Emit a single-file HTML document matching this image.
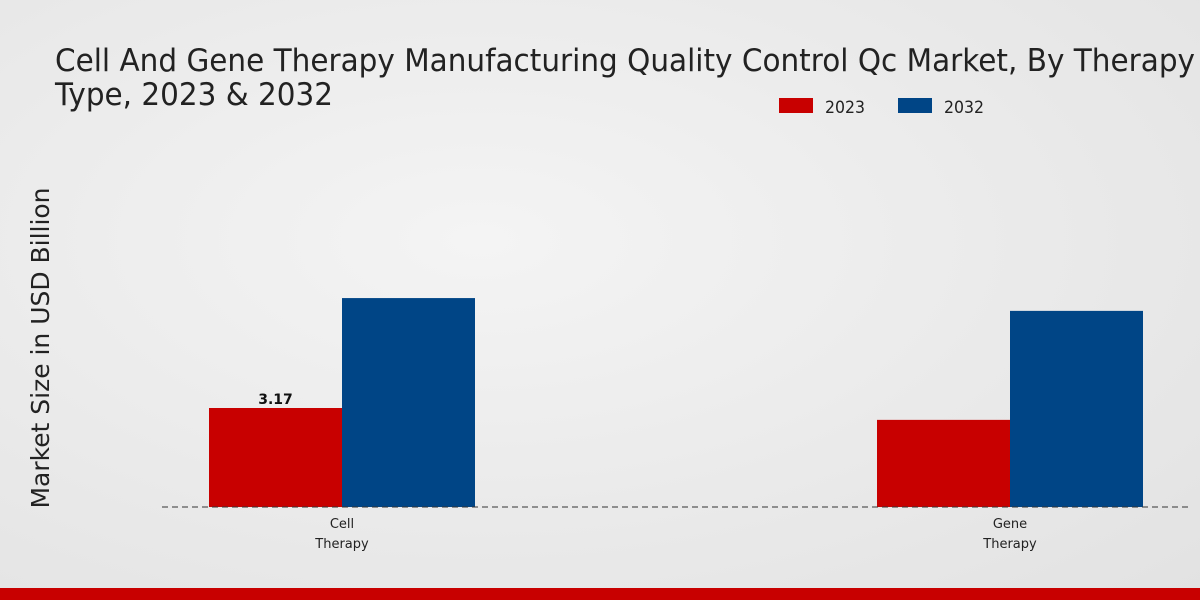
<!DOCTYPE html>
<html><head><meta charset="utf-8">
<style>
html,body{margin:0;padding:0;width:1200px;height:600px;overflow:hidden;}
body{background:radial-gradient(ellipse at 40% 40%,#f4f4f4 0%,#e9e9e9 60%,#e2e2e2 100%);font-family:"DejaVu Sans","Liberation Sans",sans-serif;}
</style></head>
<body>
<svg width="1200" height="600" viewBox="0 0 1200 600">
<text x="55" y="71" font-size="31" fill="#222" textLength="1140" lengthAdjust="spacingAndGlyphs">Cell And Gene Therapy Manufacturing Quality Control Qc Market, By Therapy</text>
<text x="55" y="105" font-size="31" fill="#222" textLength="278" lengthAdjust="spacingAndGlyphs">Type, 2023 &amp; 2032</text>
<g>
<rect x="779" y="98" width="34" height="15" fill="#c80000"/>
<text x="825" y="113" font-size="17" fill="#222" textLength="40" lengthAdjust="spacingAndGlyphs">2023</text>
<rect x="898" y="98" width="34" height="15" fill="#004586"/>
<text x="944" y="113" font-size="17" fill="#222" textLength="40" lengthAdjust="spacingAndGlyphs">2032</text>
</g>
<text transform="translate(49,348) rotate(-90)" text-anchor="middle" font-size="25" fill="#222" textLength="321" lengthAdjust="spacingAndGlyphs">Market Size in USD Billion</text>
<g id="bars"></g>
<line x1="162" y1="507" x2="1190" y2="507" stroke="#333" stroke-width="1" stroke-dasharray="6,4"/>
<g id="xlabels"></g>
<rect x="0" y="588" width="1200" height="12" fill="#c80000"/>
</svg>
<script>
const categories = ["Cell|Therapy", "Gene|Therapy"];
const values2023 = [3.17, 2.79];
const values2032 = [6.69, 6.28];
const printedLabels2023 = ["3.17", ""];
const ns = "http://www.w3.org/2000/svg";
const baseY = 507, pxPerUnit = 31.23, barW = 133;
const centers = [342, 1010];
function yScale(v){return baseY - v*pxPerUnit;}
const g = document.getElementById('bars');
const xl = document.getElementById('xlabels');
categories.forEach((c,i)=>{
  const cx = centers[i];
  [[values2023,"#c80000","2023",-barW],[values2032,"#004586","2032",0]].forEach(([arr,col,yr,off])=>{
    const r = document.createElementNS(ns,'rect');
    
    
    r.setAttribute('x', cx+off); r.setAttribute('width', barW);
    r.setAttribute('y', yScale(arr[i])); r.setAttribute('height', arr[i]*pxPerUnit);
    r.setAttribute('fill', col);
    g.appendChild(r);
  });
  if (printedLabels2023[i]) {
    const t = document.createElementNS(ns,'text');
    
    
    t.setAttribute('x', cx-barW/2); t.setAttribute('y', yScale(values2023[i])-4);
    t.setAttribute('text-anchor','middle'); t.setAttribute('font-size','14'); t.setAttribute('font-weight','bold'); t.setAttribute('fill','#111');
    t.textContent = printedLabels2023[i];
    g.appendChild(t);
  }
  c.split('|').forEach((line,j)=>{
    const t = document.createElementNS(ns,'text');
    
    
    t.setAttribute('x', cx); t.setAttribute('y', 528+j*20);
    t.setAttribute('text-anchor','middle'); t.setAttribute('font-size','13'); t.setAttribute('fill','#222');
    t.textContent = line;
    xl.appendChild(t);
  });
});
</script>
</body></html>
